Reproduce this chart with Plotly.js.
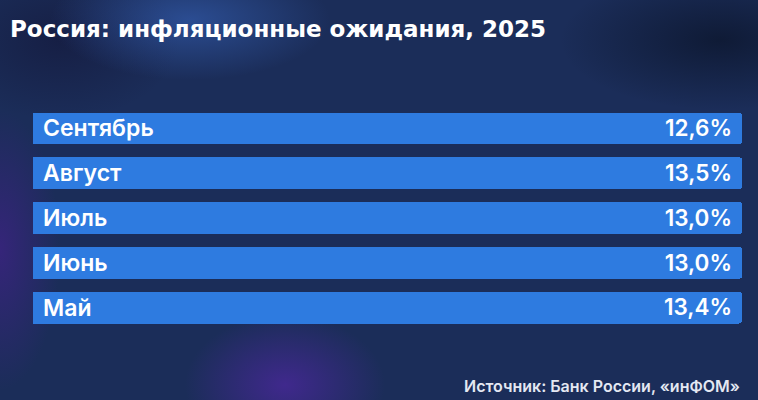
<!DOCTYPE html>
<html>
<head>
<meta charset="utf-8">
<script src="https://cdn.plot.ly/plotly-3.0.1.min.js"></script>
<style>
  html, body { margin: 0; padding: 0; }
  body {
    width: 758px; height: 400px; overflow: hidden;
    background-color: #1b2d59;
    background-image:
      radial-gradient(ellipse 100px 70px at 285px 385px, rgba(70,40,150,0.85), rgba(70,40,150,0) 100%),
      radial-gradient(ellipse 60px 140px at 0px 250px, rgba(60,35,130,0.8), rgba(60,35,130,0) 100%),
      radial-gradient(ellipse 140px 60px at 190px 20px, rgba(50,90,170,0.7), rgba(50,90,170,0) 100%),
      radial-gradient(ellipse 160px 70px at 720px 40px, rgba(12,22,45,0.8), rgba(12,22,45,0) 100%),
      radial-gradient(ellipse 120px 80px at 60px 40px, rgba(20,25,60,0.7), rgba(20,25,60,0) 100%);
  }
  #chart { width: 758px; height: 400px; }
</style>
</head>
<body>
<div id="chart"></div>
<script>
const months = ["Сентябрь", "Август", "Июль", "Июнь", "Май"];
const expectations = [12.6, 13.5, 13.0, 13.0, 13.4];
const valueLabels = expectations.map(v => v.toFixed(1).replace(".", ",") + "%");

const labelFont = "Inter, 'Noto Sans', Roboto, sans-serif";
const titleFont = "'DejaVu Sans', Inter, sans-serif";

const traces = [
  {
    type: "bar",
    orientation: "h",
    x: expectations,
    y: months,
    marker: { color: "#2e7be0", cornerradius: 3, line: { width: 0 } },
    hoverinfo: "skip",
    showlegend: false
  },
  {
    type: "bar",
    orientation: "h",
    x: expectations,
    y: months,
    yaxis: "y2",
    marker: { color: "rgba(0,0,0,0)" },
    hoverinfo: "skip",
    showlegend: false
  }
];

const layout = {
  width: 758,
  height: 400,
  paper_bgcolor: "rgba(0,0,0,0)",
  plot_bgcolor: "rgba(0,0,0,0)",
  margin: { l: 33, r: 16, t: 106, b: 70 },
  barmode: "stack",
  barnorm: "percent",
  bargap: 0.29,
  title: {
    text: "Россия: инфляционные ожидания, 2025",
    xref: "container", yref: "container",
    x: 10 / 758, xanchor: "left",
    y: 0.928, yanchor: "middle",
    font: { family: titleFont, size: 23, color: "#ffffff", weight: 700 }
  },
  xaxis: {
    range: [0, 100],
    visible: false,
    fixedrange: true
  },
  yaxis: {
    type: "category",
    categoryorder: "array",
    categoryarray: months,
    autorange: "reversed",
    ticklabelposition: "inside",
    ticklabelstandoff: 7,
    ticks: "",
    showline: false,
    showgrid: false,
    zeroline: false,
    tickfont: { family: labelFont, size: 23, color: "#ffffff", weight: 600 },
    fixedrange: true
  },
  yaxis2: {
    type: "category",
    overlaying: "y",
    side: "right",
    categoryorder: "array",
    categoryarray: months,
    autorange: "reversed",
    tickmode: "array",
    tickvals: months,
    ticktext: valueLabels,
    ticklabelposition: "inside",
    ticklabelstandoff: 7,
    ticks: "",
    showline: false,
    showgrid: false,
    zeroline: false,
    tickfont: { family: labelFont, size: 22.5, color: "#ffffff", weight: 600 },
    fixedrange: true
  },
  annotations: [
    {
      text: "Источник: Банк России, «инФОМ»",
      xref: "paper", yref: "paper",
      x: 1, xanchor: "right",
      y: -0.248, yanchor: "middle",
      showarrow: false,
      font: { family: labelFont, size: 16, color: "#e4e8f2", weight: 600 }
    }
  ]
};

Plotly.newPlot("chart", traces, layout, { displayModeBar: false, staticPlot: true });
</script>
</body>
</html>
